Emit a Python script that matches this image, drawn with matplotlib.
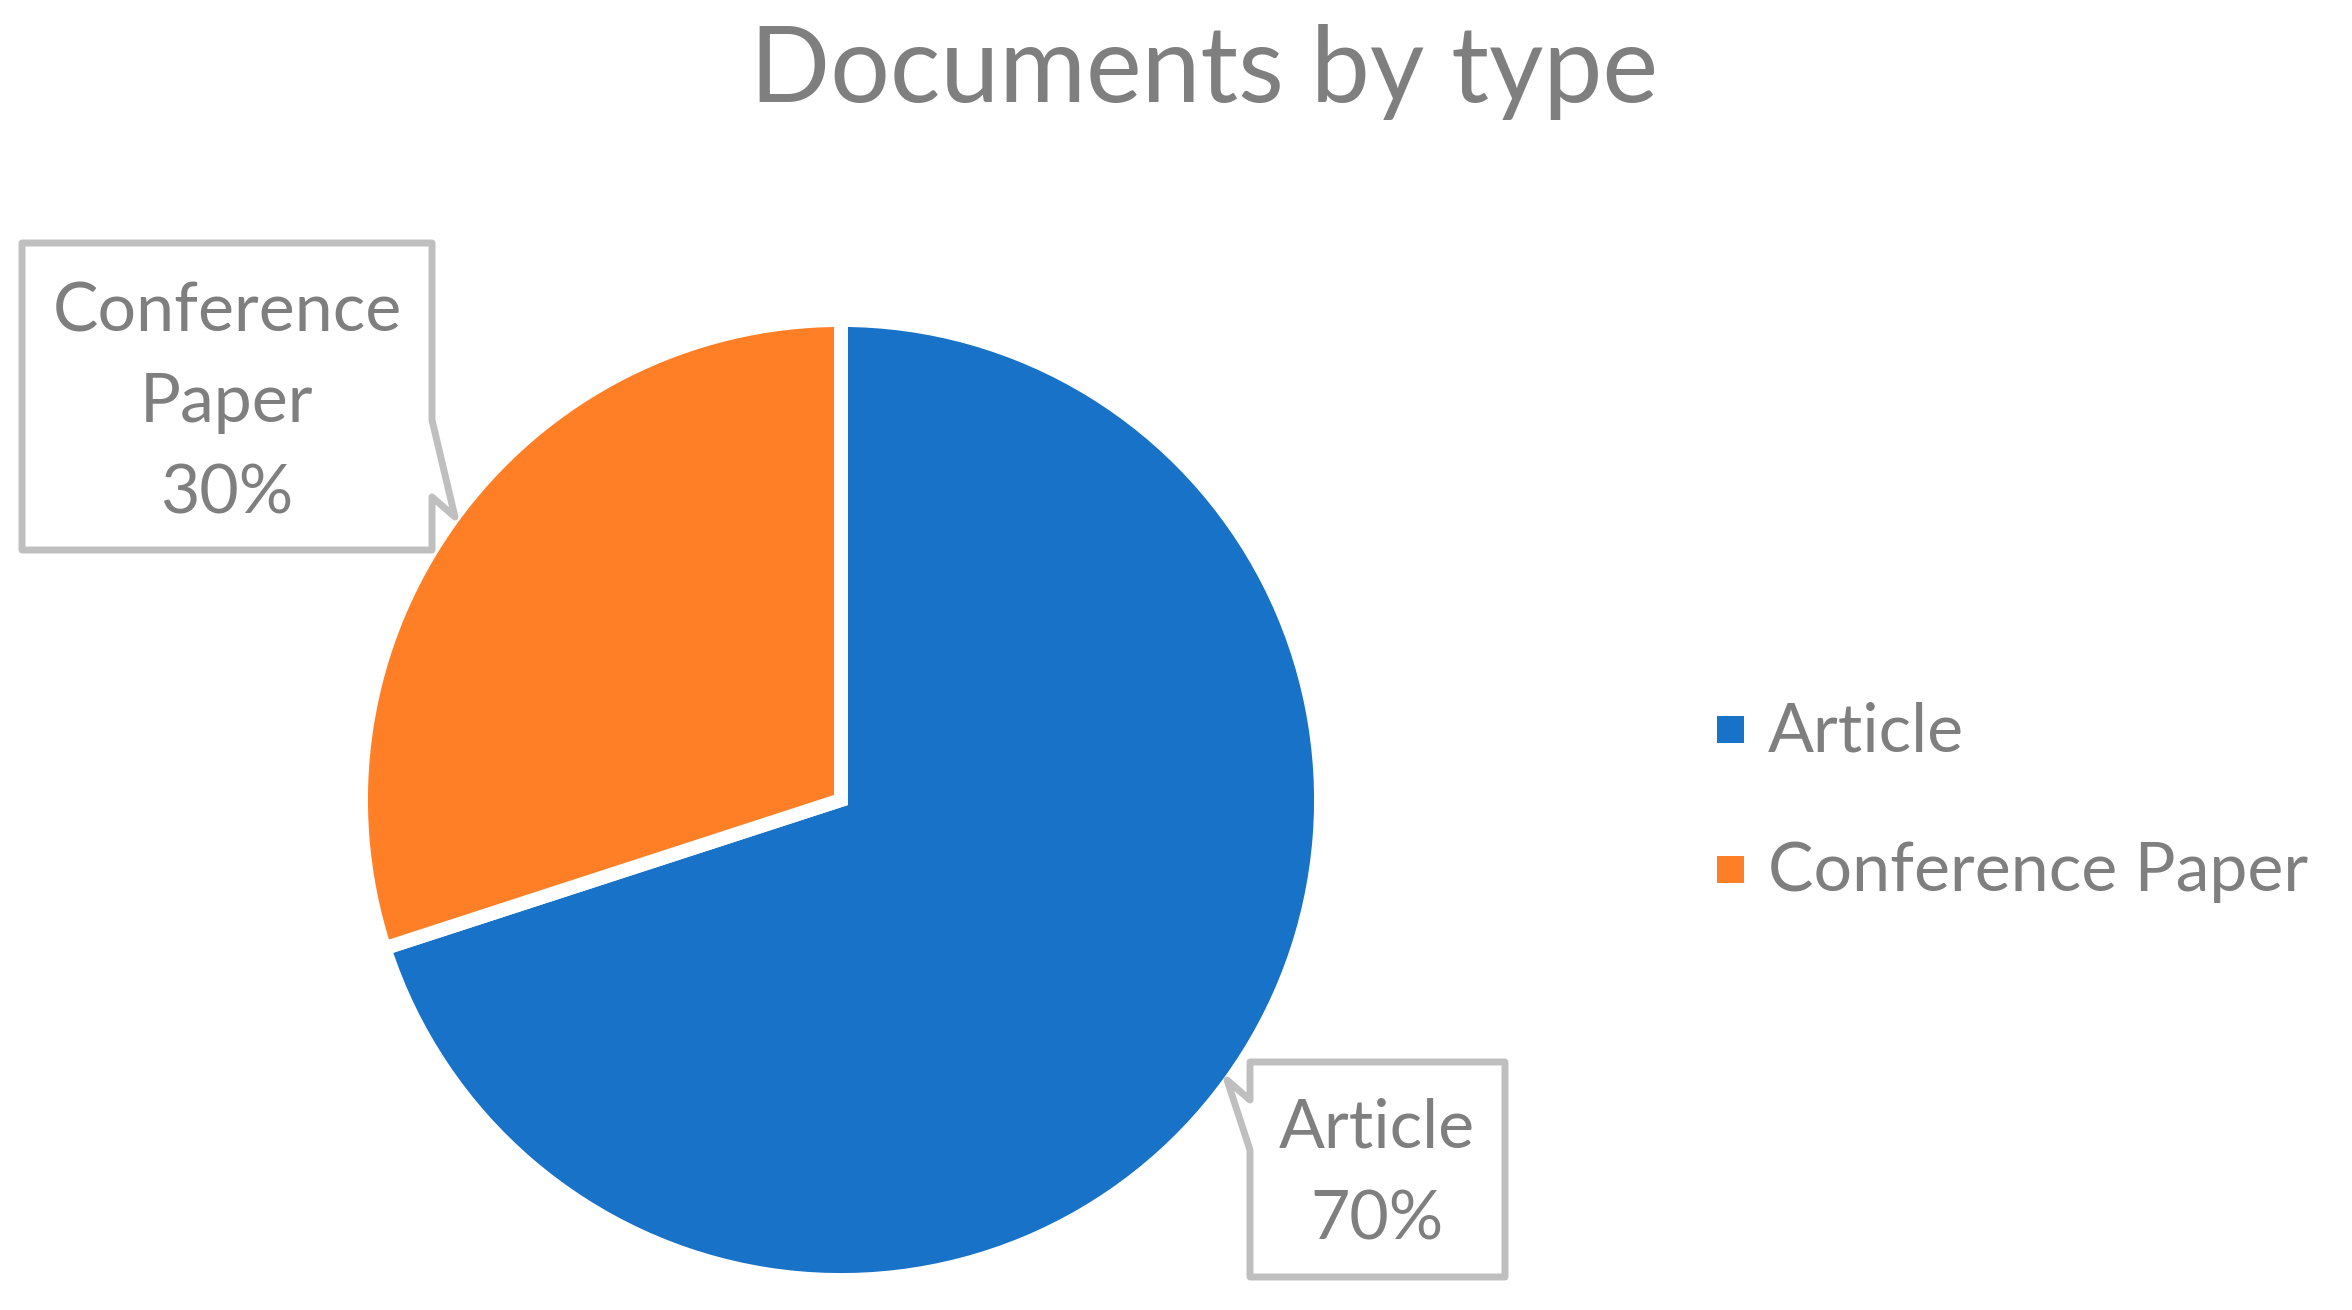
import matplotlib
matplotlib.use('Agg')
import matplotlib.pyplot as plt
from matplotlib.patches import Polygon, Rectangle

plt.rcParams['font.family'] = ['Lato', 'DejaVu Sans']

categories = ['Article', 'Conference Paper']
shares = [70, 30]
colors = ['#1772C8', '#FF7F27']
label_lines = [['Article', '70%'], ['Conference', 'Paper', '30%']]

W, H = 2352, 1310
TXT = '#7F7F7F'
EDGE = '#BFBFBF'


def fx(x):
    return x / W


def fy(y):
    return 1 - y / H


fig = plt.figure(figsize=(W / 100, H / 100), dpi=100)

# pie: centre (841, 800) px, radius 480 px
cx, cy, r = 841, 800, 480
ax = fig.add_axes([fx(cx - r), fy(cy + r), 2 * r / W, 2 * r / H])
wedges, _ = ax.pie(shares, colors=colors, startangle=90, counterclock=False,
                   radius=1.0, wedgeprops=dict(edgecolor='white', linewidth=10))
ax.set_xlim(-1, 1)
ax.set_ylim(-1, 1)
ax.set_aspect('equal')
ax.axis('off')

fig.text(fx(1204), fy(102), 'Documents by type', ha='center', va='baseline',
         fontsize=76, color=TXT)

# callout boxes
box_conf = [(22, 243), (432, 243), (432, 420), (455, 517), (432, 497),
            (432, 550), (22, 550)]
box_art = [(1250, 1062), (1505, 1062), (1505, 1277), (1250, 1277),
           (1250, 1150), (1227, 1080), (1250, 1100)]
for pts in (box_conf, box_art):
    fig.patches.append(Polygon([(fx(x), fy(y)) for x, y in pts], closed=True,
                               transform=fig.transFigure, facecolor='white',
                               edgecolor=EDGE, linewidth=5, joinstyle='round'))

label_pos = [(1377, [1148, 1240]), (227, [332, 422, 513])]
for lines, (x, ys) in zip(label_lines, label_pos):
    for s, y in zip(lines, ys):
        fig.text(fx(x), fy(y), s, ha='center', va='baseline', fontsize=49,
                 color=TXT)

# legend
for i, (cat, col) in enumerate(zip(categories, colors)):
    top = 716 + 140 * i
    fig.patches.append(Rectangle((fx(1717), fy(top + 27)), 27 / W, 27 / H,
                                 transform=fig.transFigure, facecolor=col,
                                 edgecolor='none'))
    fig.text(fx(1768), fy(751 + 140 * i), cat, ha='left', va='baseline',
             fontsize=49, color=TXT)

fig.savefig('out.png', dpi=100, facecolor='white')
